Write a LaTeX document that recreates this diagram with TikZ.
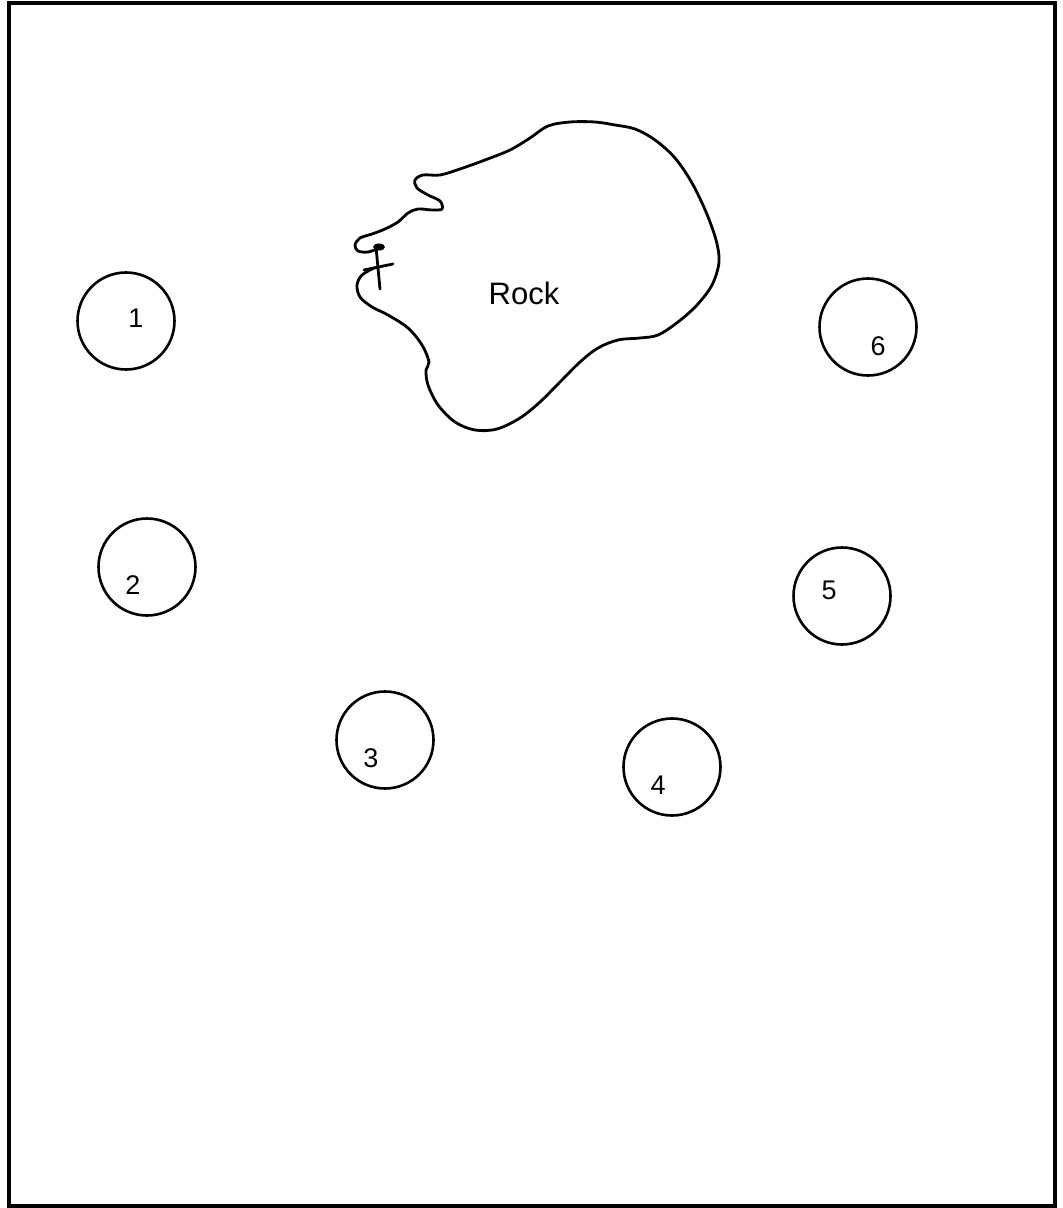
\documentclass[tikz,border=0pt]{standalone}
\usepackage{fontspec}
\setmainfont{Liberation Sans}
\begin{document}
\begin{tikzpicture}[x=0.5pt,y=-0.5pt,
  line/.style={line width=1.4pt, line join=round, line cap=round},
  well/.style={circle, draw, line width=1.3pt, minimum size=97*0.5pt, inner sep=0pt},
  lbl/.style={font=\fontsize{13.5}{15}\selectfont, inner sep=0pt}]
\useasboundingbox (0,0) rectangle (1062,1208);
\draw[line width=1.8pt] (9,3) rectangle (1055,1206);
% wells
\node[well] (w1) at (126,321) {};
\node[well] (w2) at (147,567) {};
\node[well] (w3) at (385,740) {};
\node[well] (w4) at (672,767) {};
\node[well] (w5) at (842,596) {};
\node[well] (w6) at (868,327) {};
\node[lbl] (l1) at (136,318) {1};
\node[lbl] (l2) at (133,585) {2};
\node[lbl] (l3) at (371,758) {3};
\node[lbl] (l4) at (658,785) {4};
\node[lbl] (l5) at (829,590) {5};
\node[lbl] (l6) at (878,346) {6};
% rock
\draw[line] plot[smooth, tension=0.55] coordinates {
(380,248) (368,252) (358,251) (355,245) (360,238) (372,234) (385,229) (398,222)
(408,213) (418,209) (432,210) (442,209) (440,201) (428,195) (417,188) (415,180)
(423,175) (440,175) (460,169) (485,160) (510,150) (530,138) (548,126) (570,122)
(595,122) (615,125) (635,129) (655,140) (675,158) (692,183) (706,212) (716,240)
(719,262) (712,285) (697,305) (678,322) (658,335) (640,338) (618,340) (598,348)
(580,362) (560,382) (540,402) (520,418) (497,429) (475,430) (455,422) (438,405)
(428,385) (426,370) (429,362) (422,345) (408,328) (388,315) (372,307) (360,297)
(357,285) (362,275) (374,268)};
\fill (379,247) ellipse [x radius=6, y radius=3.5];
\draw[line] (376,247) -- (380,289);
\draw[line] (364,270) -- (393,264);
\node[font=\fontsize{15.5}{17}\selectfont, inner sep=0pt] (rock) at (524,293) {Rock};
\end{tikzpicture}
\end{document}
